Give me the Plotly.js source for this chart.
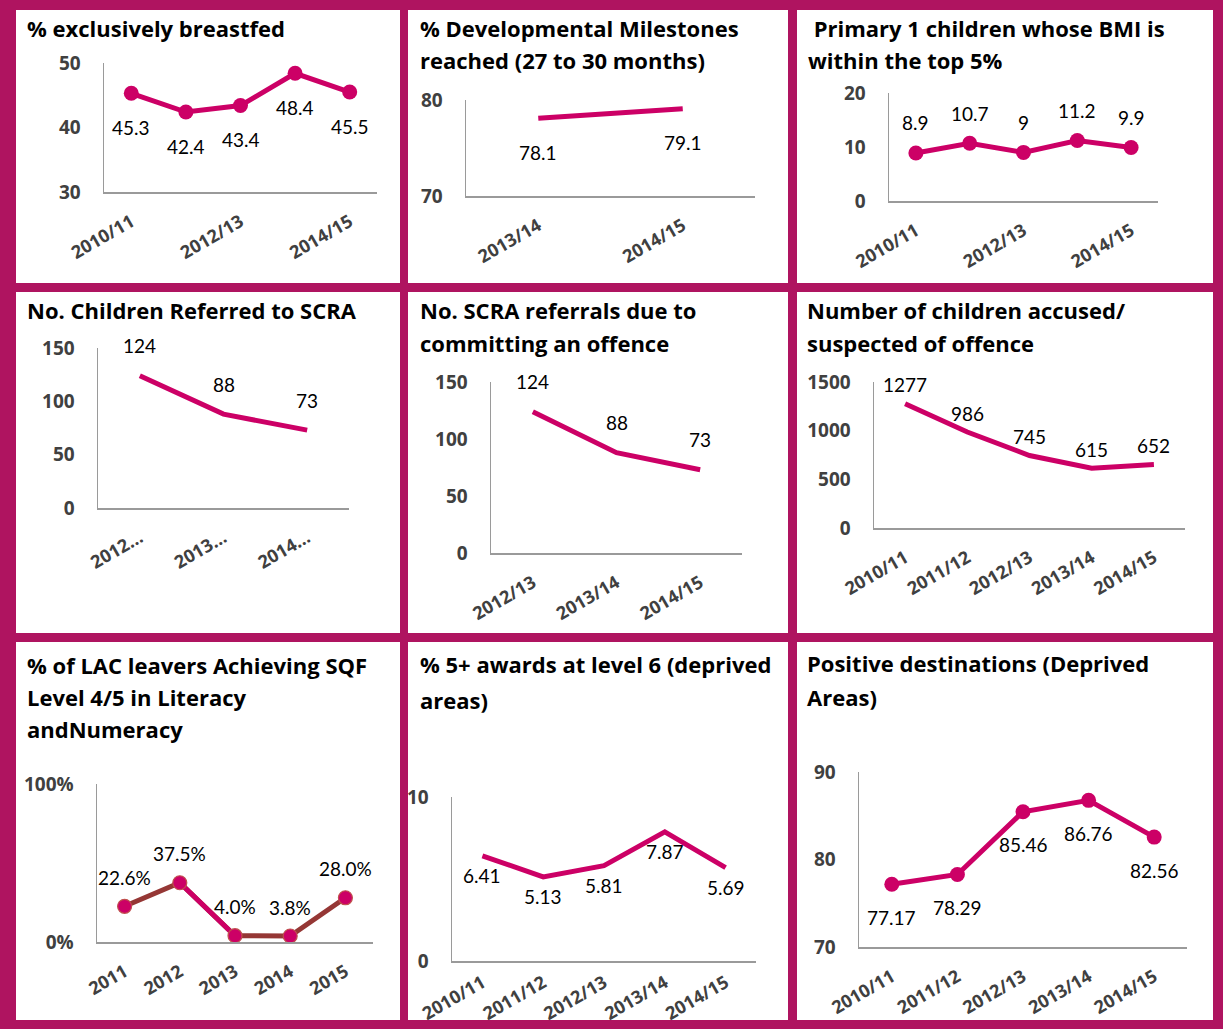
<!DOCTYPE html>
<html>
<head>
<meta charset="utf-8">
<script src="https://cdn.plot.ly/plotly-3.0.1.min.js"></script>
<style>html,body{margin:0;padding:0;background:#fff;}#chart{width:1223px;height:1029px;}</style>
</head>
<body>
<div id="chart"></div>
<script>
// ---------- DATA ----------
const bfYears = ['2010/11','2011/12','2012/13','2013/14','2014/15'];
const bfValues = [45.3, 42.4, 43.4, 48.4, 45.5];
const bfTicks = ['2010/11','2012/13','2014/15'];

const dmYears = ['2013/14','2014/15'];
const dmValues = [78.1, 79.1];

const bmiYears = ['2010/11','2011/12','2012/13','2013/14','2014/15'];
const bmiValues = [8.9, 10.7, 9, 11.2, 9.9];
const bmiTicks = ['2010/11','2012/13','2014/15'];

const scraYears = ['2012/13','2013/14','2014/15'];
const scraValues = [124, 88, 73];
const scraTickText = ['2012…','2013…','2014…'];

const offYears = ['2012/13','2013/14','2014/15'];
const offValues = [124, 88, 73];

const accYears = ['2010/11','2011/12','2012/13','2013/14','2014/15'];
const accValues = [1277, 986, 745, 615, 652];

const lacYears = ['2011','2012','2013','2014','2015'];
const lacValues = [0.226, 0.375, 0.040, 0.038, 0.280];

const awYears = ['2010/11','2011/12','2012/13','2013/14','2014/15'];
const awValues = [6.41, 5.13, 5.81, 7.87, 5.69];

const pdYears = ['2010/11','2011/12','2012/13','2013/14','2014/15'];
const pdValues = [77.17, 78.29, 85.46, 86.76, 82.56];

const titles = [
  ['% exclusively breastfed'],
  ['% Developmental Milestones', 'reached (27 to 30 months)'],
  [' Primary 1 children whose BMI is', 'within the top 5%'],
  ['No. Children Referred to SCRA'],
  ['No. SCRA referrals due to', 'committing an offence'],
  ['Number of children accused/', 'suspected of offence'],
  ['% of LAC leavers Achieving SQF', 'Level 4/5 in Literacy', 'andNumeracy'],
  ['% 5+ awards at level 6 (deprived', 'areas)'],
  ['Positive destinations (Deprived', 'Areas)']
];

// ---------- STYLE ----------
const W = 1223, H = 1029;
const TFONT = '"Open Sans", Lato, sans-serif';
const LFONT = 'Lato, "Open Sans", sans-serif';
const MAG = '#CC0066';
const BROWN = '#953735';
const BORDER = '#AF1460';
const AXIS = '#9a9a9a';
const TICK = '#404040';

function xd(a, b) { return [a / W, b / W]; }
function yd(t, b) { return [1 - b / H, 1 - t / H]; }

const traces = [];
const layout = {
  width: W, height: H,
  margin: {l: 0, r: 0, t: 0, b: 0},
  paper_bgcolor: BORDER,
  plot_bgcolor: 'rgba(0,0,0,0)',
  showlegend: false,
  font: {family: LFONT, color: '#000'},
  shapes: [],
  annotations: []
};

// white panel interiors
const colX = [[16, 400], [408, 788], [797, 1213]];
const rowY = [[10, 283], [292, 633], [642, 1020]];
rowY.forEach(r => colX.forEach(c => {
  layout.shapes.push({type: 'rect', xref: 'paper', yref: 'paper', layer: 'below',
    x0: c[0] / W, x1: c[1] / W, y0: 1 - r[1] / H, y1: 1 - r[0] / H,
    fillcolor: '#ffffff', line: {width: 0}});
}));

// titles
const titlePos = [
  [25, [28]], [418, [28, 60]], [806, [28, 60]],
  [25, [310]], [418, [310, 343]], [805, [310, 343]],
  [25, [665, 697, 729]], [418, [664, 700]], [805, [663, 697]]
];
titles.forEach((lines, i) => {
  lines.forEach((ln, j) => {
    layout.annotations.push({xref: 'paper', yref: 'paper', x: titlePos[i][0] / W, y: 1 - titlePos[i][1][j] / H,
      xanchor: 'left', yanchor: 'middle', showarrow: false, text: '<b>' + ln.replace(/ /g, '&nbsp;') + '</b>',
      font: {family: TFONT, size: 22, color: '#000'}});
  });
});

function panel(n, cfg) {
  const xa = n === 1 ? 'xaxis' : 'xaxis' + n;
  const ya = n === 1 ? 'yaxis' : 'yaxis' + n;
  const xr = n === 1 ? 'x' : 'x' + n;
  const yr = n === 1 ? 'y' : 'y' + n;
  layout[xa] = {
    domain: xd(cfg.x[0], cfg.x[1]), anchor: yr, type: 'category',
    range: [-0.5, cfg.cats.length - 0.5],
    showline: true, linecolor: AXIS, linewidth: 1.5, showgrid: false, zeroline: false,
    ticks: '', tickangle: -30, ticklabelstandoff: cfg.xstand !== undefined ? cfg.xstand : 11, fixedrange: true,
    tickfont: {family: TFONT, size: 18, color: TICK, weight: 'bold'},
    tickvals: cfg.tickvals || cfg.cats, ticktext: cfg.ticktext || cfg.tickvals || cfg.cats
  };
  layout[ya] = {
    domain: yd(cfg.y[0], cfg.y[1]), anchor: xr,
    range: cfg.yrange, dtick: cfg.dtick, tickvals: cfg.ytickvals, tickformat: cfg.tickformat,
    showline: true, linecolor: AXIS, linewidth: 1.5, showgrid: false, zeroline: false,
    ticks: '', ticklabelstandoff: 18, fixedrange: true,
    tickfont: {family: TFONT, size: 19, color: TICK, weight: 'bold'}
  };
  (cfg.traces || []).forEach(t => { t.xaxis = xr; t.yaxis = yr; traces.push(t); });
  cfg.cats.forEach((c, i) => {
    layout.annotations.push({xref: xr, yref: yr, x: i, y: cfg.vals[i], showarrow: false,
      text: cfg.fmt ? cfg.fmt(cfg.vals[i]) : String(cfg.vals[i]),
      yshift: cfg.shift, xanchor: 'center', yanchor: 'middle',
      font: {family: LFONT, size: 19, color: '#000'}});
  });
}

function lineTrace(x, y, markers, color) {
  return {type: 'scatter', x: x, y: y, mode: markers ? 'lines+markers' : 'lines',
    line: {color: color || MAG, width: 5},
    marker: {color: MAG, size: 15}, hoverinfo: 'skip'};
}

panel(1, {x: [104, 377], y: [63, 192], cats: bfYears, vals: bfValues, tickvals: bfTicks,
  yrange: [30, 50], dtick: 10, shift: -34, traces: [lineTrace(bfYears, bfValues, true)]});
panel(2, {x: [466, 755], y: [100, 196], cats: dmYears, vals: dmValues,
  yrange: [70, 80], dtick: 10, shift: -34, traces: [lineTrace(dmYears, dmValues, false)]});
panel(3, {x: [889, 1158], y: [93, 201], cats: bmiYears, vals: bmiValues, tickvals: bmiTicks,
  yrange: [0, 20], dtick: 10, shift: 30, traces: [lineTrace(bmiYears, bmiValues, true)]});
panel(4, {x: [98, 349], y: [348, 508], cats: scraYears, vals: scraValues, tickvals: scraYears, ticktext: scraTickText,
  yrange: [0, 150], dtick: 50, shift: 30, traces: [lineTrace(scraYears, scraValues, false)]});
panel(5, {x: [491, 742], y: [382, 553], cats: offYears, vals: offValues,
  yrange: [0, 150], dtick: 50, shift: 30, traces: [lineTrace(offYears, offValues, false)]});
panel(6, {x: [874, 1185], y: [382, 528], cats: accYears, vals: accValues,
  yrange: [0, 1500], dtick: 500, shift: 19, traces: [lineTrace(accYears, accValues, false)]});
panel(7, {x: [97, 373], y: [784, 942], cats: lacYears, vals: lacValues,
  yrange: [0, 1], ytickvals: [0, 1], tickformat: '.0%', shift: 29,
  fmt: v => (v * 100).toFixed(1) + '%',
  traces: [
    {type: 'scatter', x: lacYears, y: lacValues, mode: 'lines', line: {color: BROWN, width: 5}, hoverinfo: 'skip'},
    {type: 'scatter', x: lacYears.slice(1, 3), y: lacValues.slice(1, 3), mode: 'lines', line: {color: MAG, width: 5}, hoverinfo: 'skip'},
    {type: 'scatter', x: lacYears, y: lacValues, mode: 'markers', marker: {color: MAG, size: 14, line: {color: '#C0504D', width: 1.2}}, hoverinfo: 'skip'}
  ]});
panel(8, {x: [452, 756], y: [797, 961], cats: awYears, vals: awValues, xstand: 3,
  yrange: [0, 10], dtick: 10, shift: -20, traces: [lineTrace(awYears, awValues, false)]});
panel(9, {x: [859, 1187], y: [772, 947], cats: pdYears, vals: pdValues,
  yrange: [70, 90], dtick: 10, shift: -33, traces: [lineTrace(pdYears, pdValues, true)]});

Plotly.newPlot('chart', traces, layout, {displayModeBar: false, staticPlot: true});
</script>
</body>
</html>
